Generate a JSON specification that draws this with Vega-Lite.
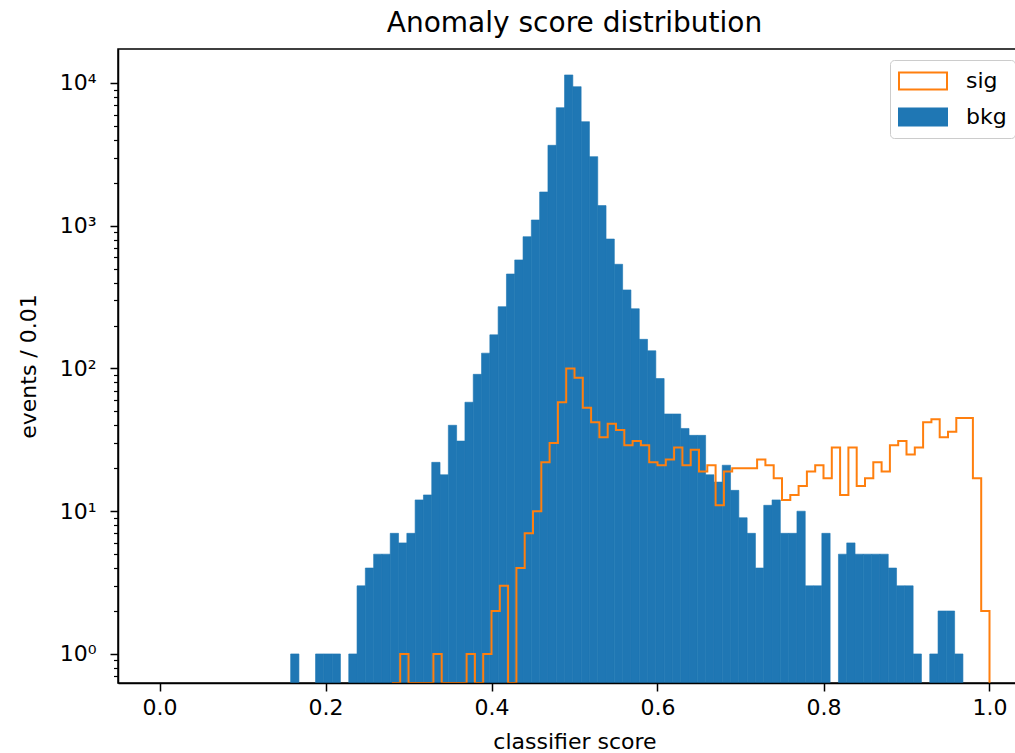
{
  "$schema": "https://vega.github.io/schema/vega-lite/v6.json",
  "width": 913,
  "height": 634,
  "autosize": {"type": "none"},
  "padding": {"left": 118, "top": 49, "right": 0, "bottom": 70},
  "background": "white",
  "config": {
    "font": "DejaVu Sans",
    "view": {"stroke": "black", "strokeWidth": 1.5}
  },
  "title": {"text": "Anomaly score distribution", "fontSize": 28, "fontWeight": "normal", "color": "black", "offset": 11, "anchor": "middle", "font": "DejaVu Sans"},
  "datasets": {
    "bkg": [
      {"series": "bkg", "lo": 0.158, "hi": 0.168, "count": 1},
      {"series": "bkg", "lo": 0.188, "hi": 0.198, "count": 1},
      {"series": "bkg", "lo": 0.198, "hi": 0.208, "count": 1},
      {"series": "bkg", "lo": 0.208, "hi": 0.218, "count": 1},
      {"series": "bkg", "lo": 0.228, "hi": 0.238, "count": 1},
      {"series": "bkg", "lo": 0.238, "hi": 0.248, "count": 3},
      {"series": "bkg", "lo": 0.248, "hi": 0.258, "count": 4},
      {"series": "bkg", "lo": 0.258, "hi": 0.268, "count": 5},
      {"series": "bkg", "lo": 0.268, "hi": 0.278, "count": 5},
      {"series": "bkg", "lo": 0.278, "hi": 0.288, "count": 7},
      {"series": "bkg", "lo": 0.288, "hi": 0.298, "count": 6},
      {"series": "bkg", "lo": 0.298, "hi": 0.308, "count": 7},
      {"series": "bkg", "lo": 0.308, "hi": 0.318, "count": 12},
      {"series": "bkg", "lo": 0.318, "hi": 0.328, "count": 13},
      {"series": "bkg", "lo": 0.328, "hi": 0.338, "count": 22},
      {"series": "bkg", "lo": 0.338, "hi": 0.348, "count": 18},
      {"series": "bkg", "lo": 0.348, "hi": 0.358, "count": 40},
      {"series": "bkg", "lo": 0.358, "hi": 0.368, "count": 31},
      {"series": "bkg", "lo": 0.368, "hi": 0.378, "count": 58},
      {"series": "bkg", "lo": 0.378, "hi": 0.388, "count": 91},
      {"series": "bkg", "lo": 0.388, "hi": 0.398, "count": 128},
      {"series": "bkg", "lo": 0.398, "hi": 0.408, "count": 172},
      {"series": "bkg", "lo": 0.408, "hi": 0.418, "count": 271},
      {"series": "bkg", "lo": 0.418, "hi": 0.428, "count": 459},
      {"series": "bkg", "lo": 0.428, "hi": 0.438, "count": 576},
      {"series": "bkg", "lo": 0.438, "hi": 0.448, "count": 838},
      {"series": "bkg", "lo": 0.448, "hi": 0.458, "count": 1097},
      {"series": "bkg", "lo": 0.458, "hi": 0.468, "count": 1723},
      {"series": "bkg", "lo": 0.468, "hi": 0.478, "count": 3659},
      {"series": "bkg", "lo": 0.478, "hi": 0.488, "count": 6715},
      {"series": "bkg", "lo": 0.488, "hi": 0.498, "count": 11380},
      {"series": "bkg", "lo": 0.498, "hi": 0.508, "count": 9420},
      {"series": "bkg", "lo": 0.508, "hi": 0.518, "count": 5357},
      {"series": "bkg", "lo": 0.518, "hi": 0.528, "count": 3048},
      {"series": "bkg", "lo": 0.528, "hi": 0.538, "count": 1383},
      {"series": "bkg", "lo": 0.538, "hi": 0.548, "count": 807},
      {"series": "bkg", "lo": 0.548, "hi": 0.558, "count": 537},
      {"series": "bkg", "lo": 0.558, "hi": 0.568, "count": 355},
      {"series": "bkg", "lo": 0.568, "hi": 0.578, "count": 262},
      {"series": "bkg", "lo": 0.578, "hi": 0.588, "count": 160},
      {"series": "bkg", "lo": 0.588, "hi": 0.598, "count": 133},
      {"series": "bkg", "lo": 0.598, "hi": 0.608, "count": 85},
      {"series": "bkg", "lo": 0.608, "hi": 0.618, "count": 48},
      {"series": "bkg", "lo": 0.618, "hi": 0.628, "count": 48},
      {"series": "bkg", "lo": 0.628, "hi": 0.638, "count": 38},
      {"series": "bkg", "lo": 0.638, "hi": 0.648, "count": 34},
      {"series": "bkg", "lo": 0.648, "hi": 0.658, "count": 34},
      {"series": "bkg", "lo": 0.658, "hi": 0.668, "count": 18},
      {"series": "bkg", "lo": 0.668, "hi": 0.678, "count": 16},
      {"series": "bkg", "lo": 0.678, "hi": 0.688, "count": 21},
      {"series": "bkg", "lo": 0.688, "hi": 0.698, "count": 14},
      {"series": "bkg", "lo": 0.698, "hi": 0.708, "count": 9},
      {"series": "bkg", "lo": 0.708, "hi": 0.718, "count": 7},
      {"series": "bkg", "lo": 0.718, "hi": 0.728, "count": 4},
      {"series": "bkg", "lo": 0.728, "hi": 0.738, "count": 11},
      {"series": "bkg", "lo": 0.738, "hi": 0.748, "count": 12},
      {"series": "bkg", "lo": 0.748, "hi": 0.758, "count": 7},
      {"series": "bkg", "lo": 0.758, "hi": 0.768, "count": 7},
      {"series": "bkg", "lo": 0.768, "hi": 0.778, "count": 10},
      {"series": "bkg", "lo": 0.778, "hi": 0.788, "count": 3},
      {"series": "bkg", "lo": 0.788, "hi": 0.798, "count": 3},
      {"series": "bkg", "lo": 0.798, "hi": 0.808, "count": 7},
      {"series": "bkg", "lo": 0.818, "hi": 0.828, "count": 5},
      {"series": "bkg", "lo": 0.828, "hi": 0.838, "count": 6},
      {"series": "bkg", "lo": 0.838, "hi": 0.848, "count": 5},
      {"series": "bkg", "lo": 0.848, "hi": 0.858, "count": 5},
      {"series": "bkg", "lo": 0.858, "hi": 0.868, "count": 5},
      {"series": "bkg", "lo": 0.868, "hi": 0.878, "count": 5},
      {"series": "bkg", "lo": 0.878, "hi": 0.888, "count": 4},
      {"series": "bkg", "lo": 0.888, "hi": 0.898, "count": 3},
      {"series": "bkg", "lo": 0.898, "hi": 0.908, "count": 3},
      {"series": "bkg", "lo": 0.908, "hi": 0.918, "count": 1},
      {"series": "bkg", "lo": 0.928, "hi": 0.938, "count": 1},
      {"series": "bkg", "lo": 0.938, "hi": 0.948, "count": 2},
      {"series": "bkg", "lo": 0.948, "hi": 0.958, "count": 2},
      {"series": "bkg", "lo": 0.958, "hi": 0.968, "count": 1}
    ],
    "sig": [
      {"series": "sig", "edge": 0.28, "count": 0},
      {"series": "sig", "edge": 0.29, "count": 1},
      {"series": "sig", "edge": 0.30, "count": 0},
      {"series": "sig", "edge": 0.31, "count": 0},
      {"series": "sig", "edge": 0.32, "count": 0},
      {"series": "sig", "edge": 0.33, "count": 1},
      {"series": "sig", "edge": 0.34, "count": 0},
      {"series": "sig", "edge": 0.35, "count": 0},
      {"series": "sig", "edge": 0.36, "count": 0},
      {"series": "sig", "edge": 0.37, "count": 1},
      {"series": "sig", "edge": 0.38, "count": 0},
      {"series": "sig", "edge": 0.39, "count": 1},
      {"series": "sig", "edge": 0.40, "count": 2},
      {"series": "sig", "edge": 0.41, "count": 3},
      {"series": "sig", "edge": 0.42, "count": 0},
      {"series": "sig", "edge": 0.43, "count": 4},
      {"series": "sig", "edge": 0.44, "count": 7},
      {"series": "sig", "edge": 0.45, "count": 10},
      {"series": "sig", "edge": 0.46, "count": 22},
      {"series": "sig", "edge": 0.47, "count": 30},
      {"series": "sig", "edge": 0.48, "count": 58},
      {"series": "sig", "edge": 0.49, "count": 100},
      {"series": "sig", "edge": 0.50, "count": 86},
      {"series": "sig", "edge": 0.51, "count": 53},
      {"series": "sig", "edge": 0.52, "count": 42},
      {"series": "sig", "edge": 0.53, "count": 33},
      {"series": "sig", "edge": 0.54, "count": 41},
      {"series": "sig", "edge": 0.55, "count": 37},
      {"series": "sig", "edge": 0.56, "count": 29},
      {"series": "sig", "edge": 0.57, "count": 31},
      {"series": "sig", "edge": 0.58, "count": 29},
      {"series": "sig", "edge": 0.59, "count": 22},
      {"series": "sig", "edge": 0.60, "count": 21},
      {"series": "sig", "edge": 0.61, "count": 23},
      {"series": "sig", "edge": 0.62, "count": 28},
      {"series": "sig", "edge": 0.63, "count": 21},
      {"series": "sig", "edge": 0.64, "count": 27},
      {"series": "sig", "edge": 0.65, "count": 19},
      {"series": "sig", "edge": 0.66, "count": 21},
      {"series": "sig", "edge": 0.67, "count": 11},
      {"series": "sig", "edge": 0.68, "count": 19},
      {"series": "sig", "edge": 0.69, "count": 20},
      {"series": "sig", "edge": 0.70, "count": 20},
      {"series": "sig", "edge": 0.71, "count": 20},
      {"series": "sig", "edge": 0.72, "count": 23},
      {"series": "sig", "edge": 0.73, "count": 21},
      {"series": "sig", "edge": 0.74, "count": 17},
      {"series": "sig", "edge": 0.75, "count": 12},
      {"series": "sig", "edge": 0.76, "count": 13},
      {"series": "sig", "edge": 0.77, "count": 15},
      {"series": "sig", "edge": 0.78, "count": 19},
      {"series": "sig", "edge": 0.79, "count": 21},
      {"series": "sig", "edge": 0.80, "count": 17},
      {"series": "sig", "edge": 0.81, "count": 28},
      {"series": "sig", "edge": 0.82, "count": 13},
      {"series": "sig", "edge": 0.83, "count": 28},
      {"series": "sig", "edge": 0.84, "count": 15},
      {"series": "sig", "edge": 0.85, "count": 17},
      {"series": "sig", "edge": 0.86, "count": 22},
      {"series": "sig", "edge": 0.87, "count": 19},
      {"series": "sig", "edge": 0.88, "count": 29},
      {"series": "sig", "edge": 0.89, "count": 31},
      {"series": "sig", "edge": 0.90, "count": 25},
      {"series": "sig", "edge": 0.91, "count": 28},
      {"series": "sig", "edge": 0.92, "count": 42},
      {"series": "sig", "edge": 0.93, "count": 44},
      {"series": "sig", "edge": 0.94, "count": 33},
      {"series": "sig", "edge": 0.95, "count": 36},
      {"series": "sig", "edge": 0.96, "count": 45},
      {"series": "sig", "edge": 0.97, "count": 45},
      {"series": "sig", "edge": 0.98, "count": 17},
      {"series": "sig", "edge": 0.99, "count": 2},
      {"series": "sig", "edge": 1.00, "count": 0}
    ]
  },
  "layer": [
    {
      "data": {"name": "bkg"},
      "mark": {"type": "bar", "clip": true, "stroke": "#1f77b4", "strokeWidth": 0.6},
      "encoding": {
        "x": {
          "field": "lo", "type": "quantitative",
          "scale": {"domain": [-0.05, 1.05], "nice": false, "zero": false},
          "axis": {"title": "classifier score", "values": [0, 0.2, 0.4, 0.6, 0.8, 1.0], "format": ".1f", "grid": false, "zindex": 1,
            "domainColor": "black", "domainWidth": 1.5, "tickColor": "black", "tickWidth": 1.5, "tickSize": 8,
            "labelFontSize": 22, "labelColor": "black", "labelPadding": 6, "labelFont": "DejaVu Sans",
            "titleFontSize": 22, "titleFontWeight": "normal", "titleColor": "black", "titlePadding": 13, "titleFont": "DejaVu Sans"}
        },
        "x2": {"field": "hi"},
        "y": {
          "field": "count", "type": "quantitative",
          "scale": {"type": "log", "domain": [0.626, 17300], "nice": false, "clamp": true},
          "axis": {"title": "events / 0.01", "grid": false, "zindex": 1,
            "values": [0.7, 0.8, 0.9, 1, 2, 3, 4, 5, 6, 7, 8, 9, 10, 20, 30, 40, 50, 60, 70, 80, 90, 100, 200, 300, 400, 500, 600, 700, 800, 900, 1000, 2000, 3000, 4000, 5000, 6000, 7000, 8000, 9000, 10000],
            "labelExpr": "datum.value == 1 ? '10⁰' : datum.value == 10 ? '10¹' : datum.value == 100 ? '10²' : datum.value == 1000 ? '10³' : datum.value == 10000 ? '10⁴' : ''",
            "labelOverlap": false, "labelFlush": false,
            "tickSize": {"condition": {"test": "datum.value == 1 || datum.value == 10 || datum.value == 100 || datum.value == 1000 || datum.value == 10000", "value": 8}, "value": 4.5},
            "tickWidth": {"condition": {"test": "datum.value == 1 || datum.value == 10 || datum.value == 100 || datum.value == 1000 || datum.value == 10000", "value": 1.5}, "value": 1.2},
            "domainColor": "black", "domainWidth": 1.5, "tickColor": "black",
            "labelFontSize": 22, "labelColor": "black", "labelPadding": 14, "labelFont": "DejaVu Sans",
            "titleFontSize": 22, "titleFontWeight": "normal", "titleColor": "black", "titlePadding": 19, "titleFont": "DejaVu Sans"}
        },
        "y2": {"value": "height"},
        "fill": {
          "field": "series", "type": "nominal",
          "scale": {"domain": ["sig", "bkg"], "range": ["#ffffff", "#1f77b4"]},
          "legend": {"title": null, "orient": "none", "legendX": 772, "legendY": 11,
            "symbolType": "M-1,-0.708H3V0.708H-1Z", "symbolSize": 576, "symbolStrokeWidth": 2,
            "labelFontSize": 22, "labelColor": "black", "labelOffset": 42, "labelFont": "DejaVu Sans",
            "padding": 8, "rowPadding": 10, "strokeColor": "#cccccc", "fillColor": "white", "cornerRadius": 4}
        }
      }
    },
    {
      "data": {"name": "sig"},
      "mark": {"type": "line", "interpolate": "step-after", "strokeWidth": 2, "clip": true},
      "encoding": {
        "x": {"field": "edge", "type": "quantitative", "axis": {"title": "classifier score"}},
        "y": {"field": "count", "type": "quantitative", "axis": {"title": "events / 0.01"}},
        "stroke": {
          "field": "series", "type": "nominal",
          "scale": {"domain": ["sig", "bkg"], "range": ["#ff7f0e", "#1f77b4"]},
          "legend": {"title": null, "orient": "none", "legendX": 772, "legendY": 11,
            "symbolType": "M-1,-0.708H3V0.708H-1Z", "symbolSize": 576, "symbolStrokeWidth": 2,
            "labelFontSize": 22, "labelColor": "black", "labelOffset": 42, "labelFont": "DejaVu Sans",
            "padding": 8, "rowPadding": 10, "strokeColor": "#cccccc", "fillColor": "white", "cornerRadius": 4}
        }
      }
    }
  ]
}
